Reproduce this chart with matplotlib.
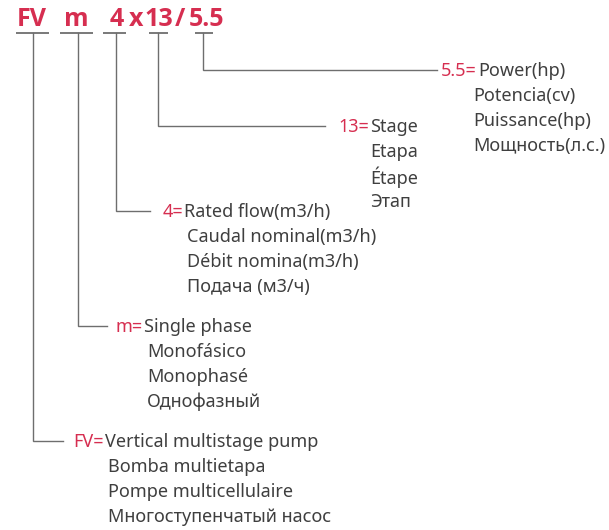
import matplotlib
matplotlib.use("Agg")
import matplotlib.pyplot as plt

plt.rcParams['font.family'] = ['Noto Sans', 'DejaVu Sans']

RED = '#d62e50'
GRAY = '#3f3f3f'
LINE = '#6e6e6e'

# model code pieces
codes = ['FV', 'm', '4', '13', '5.5']
header = ['FV', 'm', '4', 'x', '13', '/', '5.5']
header_x = [32, 76, 117, 136, 159, 180, 206]

descriptions = [
    ['Vertical multistage pump', 'Bomba multietapa', 'Pompe multicellulaire', 'Многоступенчатый насос'],
    ['Single phase', 'Monofásico', 'Monophasé', 'Однофазный'],
    ['Rated flow(m3/h)', 'Caudal nominal(m3/h)', 'Débit nomina(m3/h)', 'Подача (м3/ч)'],
    ['Stage', 'Etapa', 'Étape', 'Этап'],
    ['Power(hp)', 'Potencia(cv)', 'Puissance(hp)', 'Мощность(л.с.)'],
]

# layout (pixels)
under_x0 = [16, 60, 103, 149, 195]
under_x1 = [49, 93, 126, 168, 213]
stem_x = [33, 78, 116, 158, 203]
branch_y = [441, 326, 211, 126, 70]
branch_end = [63, 107, 150, 325, 437]
code_right = [104, 143, 183, 369, 477]
desc_x = [108, 147, 187, 370, 473]
row_gap = 25

fig = plt.figure(figsize=(6.09, 5.30), dpi=100)
ax = fig.add_axes([0, 0, 1, 1])
ax.set_xlim(0, 609)
ax.set_ylim(530, 0)
ax.axis('off')

for s, x in zip(header, header_x):
    ax.text(x, 20, s, color=RED, fontsize=18, fontweight='bold', family='Open Sans',
            ha='center', va='center')

for i, code in enumerate(codes):
    ax.plot([under_x0[i], under_x1[i]], [33, 33], color=LINE, lw=1.3, solid_capstyle='butt')
    ax.plot([stem_x[i], stem_x[i], branch_end[i]], [33, branch_y[i], branch_y[i]],
            color=LINE, lw=1.0, solid_joinstyle='miter')
    y0 = branch_y[i] + 1
    ax.text(code_right[i], y0, code + '=', color=RED, fontsize=13, ha='right', va='center')
    for j, line in enumerate(descriptions[i]):
        x = code_right[i] + 1 if j == 0 else desc_x[i]
        ax.text(x, y0 + j * row_gap, line, color=GRAY, fontsize=13, ha='left', va='center')

fig.savefig('out.png', dpi=100, facecolor='white')
